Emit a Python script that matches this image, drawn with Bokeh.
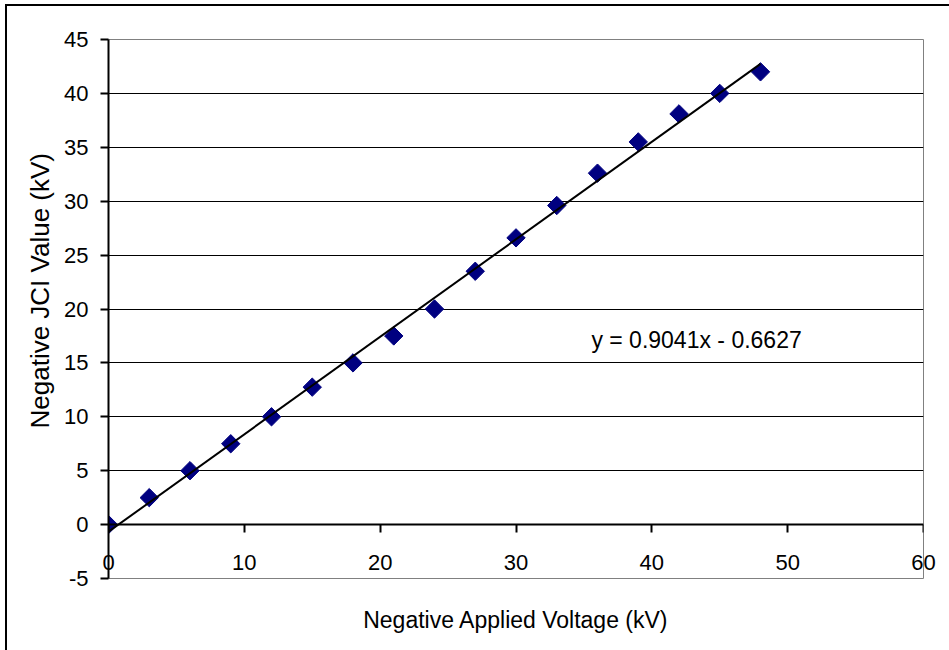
import numpy as np
from bokeh.plotting import figure
from bokeh.models import (Range1d, LinearAxis, FixedTicker, Label, Title,
                          PrintfTickFormatter, InlineStyleSheet)
from bokeh.embed import file_html
from bokeh.resources import INLINE

# ---- data ----
applied_kv = [0, 3, 6, 9, 12, 15, 18, 21, 24, 27, 30, 33, 36, 39, 42, 45, 48]
jci_kv = [0, 2.5, 5, 7.5, 10, 12.75, 15, 17.5, 20, 23.5, 26.6, 29.6, 32.6,
          35.5, 38.1, 40, 42]
trend_slope = 0.9041
trend_intercept = -0.6627
trend_x = [0, 48]
x_ticks = [0, 10, 20, 30, 40, 50, 60]
y_ticks = [-5, 0, 5, 10, 15, 20, 25, 30, 35, 40, 45]
grid_ticks = [5, 10, 15, 20, 25, 30, 35, 40]
x_title = "Negative Applied Voltage (kV)"
y_title = "Negative JCI Value (kV)"
equation = "y = 0.9041x - 0.6627"

FONT = "Liberation Sans"
TICK_SIZE = "22px"
TITLE_SIZE = "23px"

p = figure(width=949, height=650,
           x_range=Range1d(0, 60), y_range=Range1d(-5, 45),
           output_backend="svg", toolbar_location=None,
           min_border_left=108, min_border_right=26,
           min_border_top=39, min_border_bottom=72,
           background_fill_color="white", border_fill_color=None)

# chart border (left and top edges visible in the reference)
p.stylesheets = [InlineStyleSheet(css=(
    ":host { background:"
    " linear-gradient(#000,#000) 5px 4px / 2px 100% no-repeat,"
    " linear-gradient(#000,#000) 5px 4px / 100% 2px no-repeat,"
    " #ffffff; }"))]

p.outline_line_color = "#808080"
p.outline_line_width = 1

# tick labels of the x axis (sit between y=0 and y=-5)
xa = p.xaxis[0]
xa.ticker = FixedTicker(ticks=x_ticks)
xa.formatter = PrintfTickFormatter(format="%d")
xa.axis_line_color = None
xa.major_tick_out = 0
xa.major_tick_in = 0
xa.minor_tick_out = 0
xa.minor_tick_in = 0
xa.major_label_standoff = -24
xa.major_label_text_font = FONT
xa.major_label_text_font_size = TICK_SIZE
xa.major_label_text_color = "black"
xa.axis_label = x_title
xa.axis_label_standoff = 34
xa.axis_label_text_font = FONT
xa.axis_label_text_font_size = TITLE_SIZE
xa.axis_label_text_font_style = "normal"
xa.axis_label_text_color = "black"

# x axis line and ticks crossing at y = 0
xb = LinearAxis(fixed_location=0, ticker=FixedTicker(ticks=x_ticks),
                major_label_overrides={t: "" for t in x_ticks},
                axis_line_color="black", axis_line_width=2,
                major_tick_out=8, major_tick_in=0, major_tick_line_width=2,
                minor_tick_out=0, minor_tick_in=0)
p.add_layout(xb, "below")

# y axis
ya = p.yaxis[0]
ya.ticker = FixedTicker(ticks=y_ticks)
ya.formatter = PrintfTickFormatter(format="%d")
ya.axis_line_color = "black"
ya.axis_line_width = 2
ya.major_tick_out = 8
ya.major_tick_in = 0
ya.major_tick_line_width = 2
ya.minor_tick_out = 0
ya.minor_tick_in = 0
ya.major_label_standoff = 12
ya.major_label_text_font = FONT
ya.major_label_text_font_size = TICK_SIZE
ya.major_label_text_color = "black"

p.xgrid.visible = False
p.ygrid.ticker = FixedTicker(ticks=grid_ticks)
p.ygrid.grid_line_color = "black"
p.ygrid.grid_line_width = 1

# y axis title
yt = Title(text=y_title, align="left", offset=150, standoff=14,
           text_font=FONT, text_font_size="26px",
           text_font_style="normal", text_color="black")
p.add_layout(yt, "left")

# markers and trend line
p.scatter(applied_kv, jci_kv, marker="square", size=13, angle=np.pi / 4,
          fill_color="#000080", line_color="#000080")
trend_y = [trend_slope * x + trend_intercept for x in trend_x]
p.line(trend_x, trend_y, line_color="black", line_width=2)

p.add_layout(Label(x=35.55, y=17.1, text=equation, text_baseline="middle",
                   text_font=FONT, text_font_size=TITLE_SIZE,
                   text_color="black"))

open("out.html", "w").write(file_html(p, INLINE))
